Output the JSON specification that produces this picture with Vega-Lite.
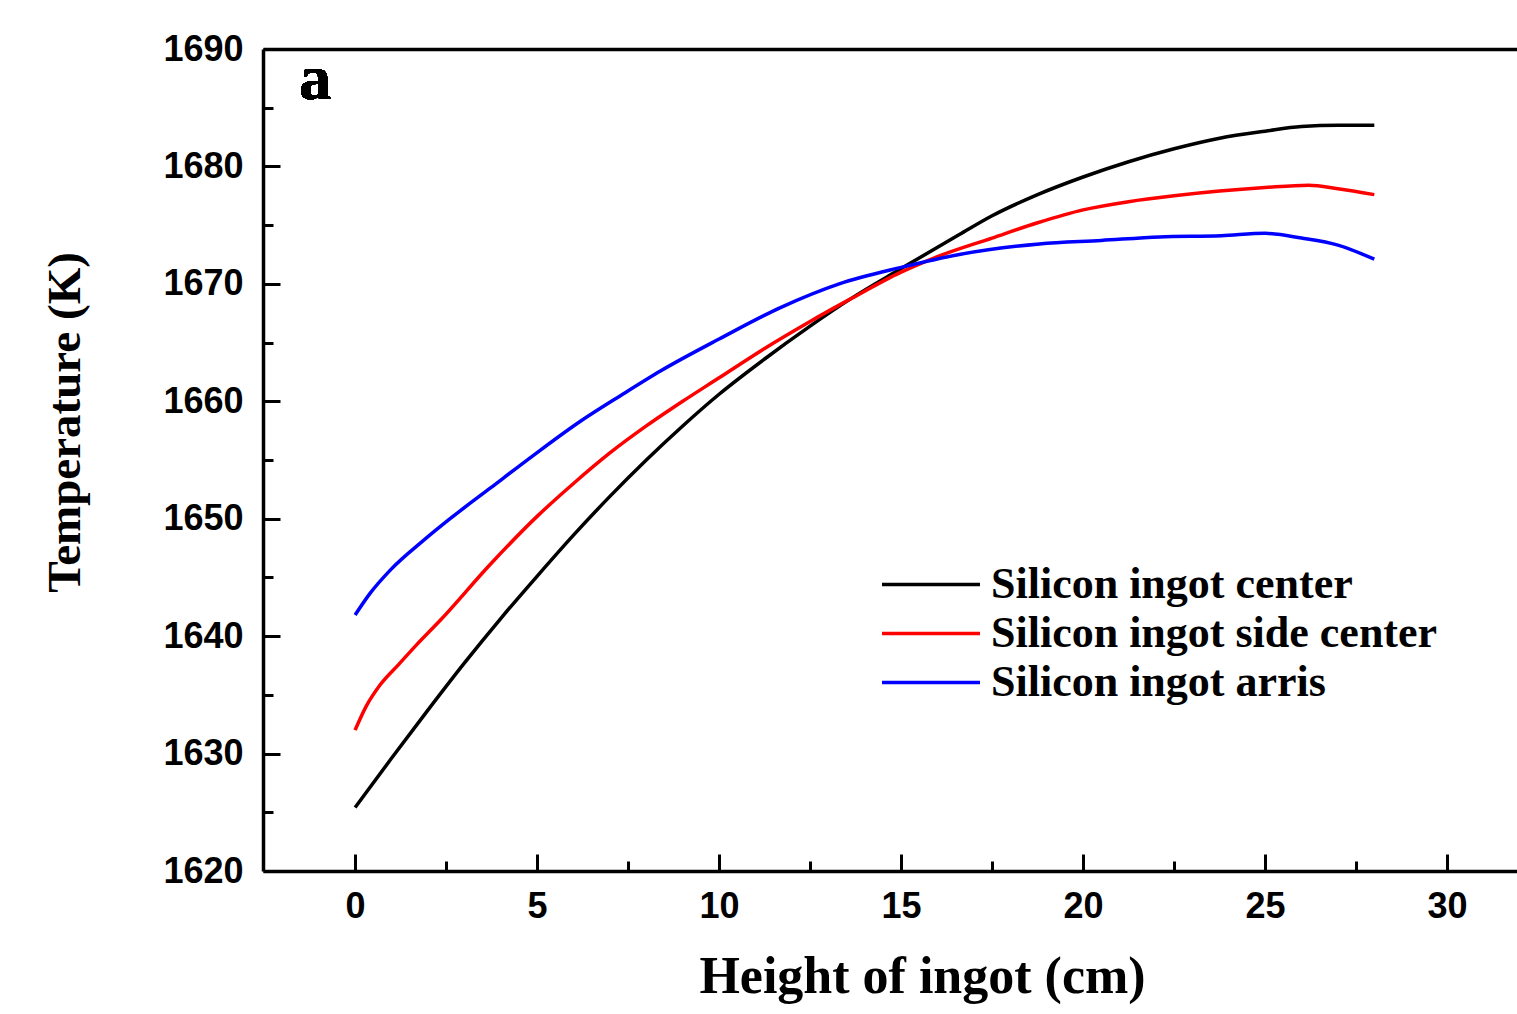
{
  "$schema": "https://vega.github.io/schema/vega-lite/v6.json",
  "width": 1254,
  "height": 822,
  "autosize": "none",
  "padding": {"left": 263, "top": 49, "right": 0, "bottom": 143},
  "background": "white",
  "config": {"view": {"stroke": null}},
  "data": {"values": [
    {"s": "Silicon ingot center", "h": 0, "T": 1625.4},
    {"s": "Silicon ingot center", "h": 1, "T": 1629.6},
    {"s": "Silicon ingot center", "h": 2, "T": 1633.7},
    {"s": "Silicon ingot center", "h": 3, "T": 1637.7},
    {"s": "Silicon ingot center", "h": 4, "T": 1641.5},
    {"s": "Silicon ingot center", "h": 5, "T": 1645.1},
    {"s": "Silicon ingot center", "h": 6, "T": 1648.6},
    {"s": "Silicon ingot center", "h": 7, "T": 1651.9},
    {"s": "Silicon ingot center", "h": 8, "T": 1655.0},
    {"s": "Silicon ingot center", "h": 9, "T": 1657.9},
    {"s": "Silicon ingot center", "h": 10, "T": 1660.6},
    {"s": "Silicon ingot center", "h": 11.25, "T": 1663.6},
    {"s": "Silicon ingot center", "h": 12.5, "T": 1666.4},
    {"s": "Silicon ingot center", "h": 13.6, "T": 1668.7},
    {"s": "Silicon ingot center", "h": 15, "T": 1671.3},
    {"s": "Silicon ingot center", "h": 16.6, "T": 1674.2},
    {"s": "Silicon ingot center", "h": 17.5, "T": 1675.8},
    {"s": "Silicon ingot center", "h": 18.75, "T": 1677.6},
    {"s": "Silicon ingot center", "h": 20, "T": 1679.1},
    {"s": "Silicon ingot center", "h": 21.25, "T": 1680.4},
    {"s": "Silicon ingot center", "h": 22.5, "T": 1681.5},
    {"s": "Silicon ingot center", "h": 23.75, "T": 1682.4},
    {"s": "Silicon ingot center", "h": 25, "T": 1683.0},
    {"s": "Silicon ingot center", "h": 26, "T": 1683.4},
    {"s": "Silicon ingot center", "h": 27, "T": 1683.5},
    {"s": "Silicon ingot center", "h": 28, "T": 1683.5},
    {"s": "Silicon ingot side center", "h": 0, "T": 1632.0},
    {"s": "Silicon ingot side center", "h": 0.3, "T": 1634.0},
    {"s": "Silicon ingot side center", "h": 0.7, "T": 1635.9},
    {"s": "Silicon ingot side center", "h": 1.2, "T": 1637.6},
    {"s": "Silicon ingot side center", "h": 1.7, "T": 1639.3},
    {"s": "Silicon ingot side center", "h": 2.34, "T": 1641.35},
    {"s": "Silicon ingot side center", "h": 3.71, "T": 1646.1},
    {"s": "Silicon ingot side center", "h": 5, "T": 1650.2},
    {"s": "Silicon ingot side center", "h": 6, "T": 1653.0},
    {"s": "Silicon ingot side center", "h": 7, "T": 1655.6},
    {"s": "Silicon ingot side center", "h": 8, "T": 1657.9},
    {"s": "Silicon ingot side center", "h": 9, "T": 1660.0},
    {"s": "Silicon ingot side center", "h": 10, "T": 1662.0},
    {"s": "Silicon ingot side center", "h": 11.25, "T": 1664.5},
    {"s": "Silicon ingot side center", "h": 12.5, "T": 1666.8},
    {"s": "Silicon ingot side center", "h": 13.6, "T": 1668.7},
    {"s": "Silicon ingot side center", "h": 15, "T": 1671.0},
    {"s": "Silicon ingot side center", "h": 15.9, "T": 1672.2},
    {"s": "Silicon ingot side center", "h": 17.5, "T": 1673.9},
    {"s": "Silicon ingot side center", "h": 18.75, "T": 1675.2},
    {"s": "Silicon ingot side center", "h": 20, "T": 1676.3},
    {"s": "Silicon ingot side center", "h": 21.25, "T": 1677.0},
    {"s": "Silicon ingot side center", "h": 22.5, "T": 1677.5},
    {"s": "Silicon ingot side center", "h": 23.75, "T": 1677.9},
    {"s": "Silicon ingot side center", "h": 25, "T": 1678.2},
    {"s": "Silicon ingot side center", "h": 26.2, "T": 1678.4},
    {"s": "Silicon ingot side center", "h": 27, "T": 1678.1},
    {"s": "Silicon ingot side center", "h": 28, "T": 1677.6},
    {"s": "Silicon ingot arris", "h": 0, "T": 1641.8},
    {"s": "Silicon ingot arris", "h": 0.4, "T": 1643.6},
    {"s": "Silicon ingot arris", "h": 0.96, "T": 1645.6},
    {"s": "Silicon ingot arris", "h": 1.88, "T": 1648.15},
    {"s": "Silicon ingot arris", "h": 2.61, "T": 1650.0},
    {"s": "Silicon ingot arris", "h": 3.71, "T": 1652.6},
    {"s": "Silicon ingot arris", "h": 4.9, "T": 1655.4},
    {"s": "Silicon ingot arris", "h": 6.19, "T": 1658.3},
    {"s": "Silicon ingot arris", "h": 7.3, "T": 1660.5},
    {"s": "Silicon ingot arris", "h": 8.4, "T": 1662.6},
    {"s": "Silicon ingot arris", "h": 10, "T": 1665.3},
    {"s": "Silicon ingot arris", "h": 11.7, "T": 1668.0},
    {"s": "Silicon ingot arris", "h": 13.3, "T": 1670.0},
    {"s": "Silicon ingot arris", "h": 15, "T": 1671.4},
    {"s": "Silicon ingot arris", "h": 16.6, "T": 1672.5},
    {"s": "Silicon ingot arris", "h": 18.8, "T": 1673.4},
    {"s": "Silicon ingot arris", "h": 20.5, "T": 1673.7},
    {"s": "Silicon ingot arris", "h": 22.1, "T": 1674.0},
    {"s": "Silicon ingot arris", "h": 23.8, "T": 1674.1},
    {"s": "Silicon ingot arris", "h": 25, "T": 1674.3},
    {"s": "Silicon ingot arris", "h": 26, "T": 1673.9},
    {"s": "Silicon ingot arris", "h": 27, "T": 1673.3},
    {"s": "Silicon ingot arris", "h": 28, "T": 1672.1}
  ]},
  "layer": [
    {
      "mark": {"type": "line", "interpolate": "monotone", "strokeWidth": 3.5},
      "encoding": {
        "x": {"field": "h", "type": "quantitative",
          "scale": {"domain": [-2.53, 31.92], "nice": false, "zero": false},
          "axis": {"orient": "bottom", "values": [0, 2.5, 5, 7.5, 10, 12.5, 15, 17.5, 20, 22.5, 25, 27.5, 30],
            "labelExpr": "datum.value % 5 === 0 ? datum.label : ''",
            "tickSize": {"condition": {"test": "datum.value % 5 === 0", "value": -17}, "value": -10},
            "tickWidth": 3, "tickColor": "black", "domainColor": "black", "domainWidth": 3.5,
            "labelFont": "Liberation Sans", "labelFontWeight": "bold", "labelFontSize": 36, "labelColor": "black",
            "labelPadding": 35, "labelFlush": false, "labelOverlap": false, "labelBound": false, "grid": false,
            "title": "Height of ingot (cm)", "titleFont": "Liberation Serif", "titleFontSize": 52, "titleFontWeight": "bold", "titleColor": "black",
            "titleX": 659, "titleY": 121, "titleAlign": "center", "titleBaseline": "alphabetic"}},
        "y": {"field": "T", "type": "quantitative",
          "scale": {"domain": [1620, 1690], "nice": false, "zero": false},
          "axis": {"orient": "left", "values": [1620, 1625, 1630, 1635, 1640, 1645, 1650, 1655, 1660, 1665, 1670, 1675, 1680, 1685, 1690],
            "format": "d",
            "labelExpr": "datum.value % 10 === 0 ? datum.label : ''",
            "tickSize": {"condition": {"test": "datum.value % 10 === 0", "value": -17}, "value": -10},
            "tickWidth": 3, "tickColor": "black", "domainColor": "black", "domainWidth": 3.5,
            "labelFont": "Liberation Sans", "labelFontWeight": "bold", "labelFontSize": 36, "labelColor": "black",
            "labelPadding": 37, "labelOverlap": false, "labelBound": false, "labelFlush": false, "grid": false,
            "title": "Temperature (K)", "titleFont": "Liberation Serif", "titleFontSize": 47, "titleFontWeight": "bold", "titleColor": "black",
            "titleX": -198, "titleY": 373, "titleAngle": -90, "titleAlign": "center", "titleBaseline": "middle"}},
        "color": {"field": "s", "type": "nominal",
          "scale": {"domain": ["Silicon ingot center", "Silicon ingot side center", "Silicon ingot arris"], "range": ["#000000", "#ff0000", "#0000ff"]},
          "legend": {"orient": "none", "legendX": 617, "legendY": 511, "title": null, "padding": 0,
            "symbolType": "stroke", "symbolSize": 9604, "symbolStrokeWidth": 3.5, "clipHeight": 49,
            "labelFont": "Liberation Serif", "labelFontWeight": "bold", "labelFontSize": 44, "labelColor": "black",
            "labelOffset": 9, "rowPadding": 0, "labelLimit": 0}}
      }
    },
    {
      "mark": {"type": "line", "opacity": 0},
      "encoding": {
        "x": {"field": "h", "type": "quantitative",
          "scale": {"domain": [-2.53, 31.92], "nice": false, "zero": false},
          "axis": {"orient": "top", "labels": false, "ticks": false, "title": null, "grid": false, "domainColor": "black", "domainWidth": 3.5}},
        "y": {"field": "T", "type": "quantitative",
          "scale": {"domain": [1620, 1690], "nice": false, "zero": false},
          "axis": null}
      }
    },
    {
      "mark": {"type": "text", "text": "a", "font": "Liberation Serif", "fontSize": 64, "fontWeight": "bold", "color": "black", "align": "left", "baseline": "alphabetic"},
      "encoding": {
        "x": {"datum": -1.54, "type": "quantitative", "axis": null},
        "y": {"datum": 1685.75, "type": "quantitative", "axis": null}
      }
    }
  ],
  "resolve": {"axis": {"x": "independent", "y": "independent"}}
}
